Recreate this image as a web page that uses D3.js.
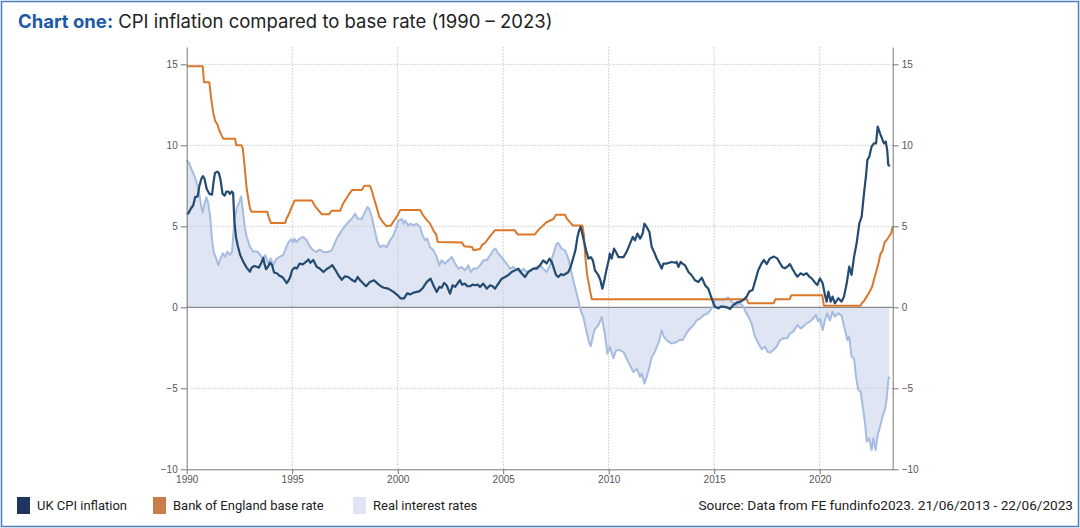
<!DOCTYPE html>
<html><head><meta charset="utf-8">
<script src="https://cdn.jsdelivr.net/npm/d3@7"></script>
<style>
html,body{margin:0;padding:0;background:#fff;}
svg{display:block;}
</style></head>
<body>
<script>
// ---------- DATA ----------
const yTicks = [-10, -5, 0, 5, 10, 15];
const xTicks = [1990, 1995, 2000, 2005, 2010, 2015, 2020];
const seriesNames = ["UK CPI inflation", "Bank of England base rate", "Real interest rates"];

// UK CPI inflation [year, %]
const cpi = [
[1990.00,5.75],[1990.08,5.8],[1990.2,6.1],[1990.31,6.3],[1990.4,6.8],[1990.52,6.85],[1990.6,7.5],[1990.7,7.95],[1990.77,8.1],[1990.84,7.95],[1990.95,7.3],
[1991.08,7.0],[1991.2,6.95],[1991.28,7.8],[1991.34,8.3],[1991.45,8.37],[1991.52,8.3],[1991.6,7.9],[1991.7,7.0],[1991.8,6.9],[1991.88,7.14],[1991.97,7.15],
[1992.05,7.0],[1992.14,7.15],[1992.2,7.05],[1992.26,5.3],[1992.34,4.3],[1992.42,3.8],[1992.53,3.25],[1992.65,2.9],[1992.75,2.65],[1992.84,2.45],
[1993.0,2.2],[1993.08,2.45],[1993.2,2.55],[1993.32,2.5],[1993.42,2.45],[1993.52,2.7],[1993.63,3.05],[1993.7,2.6],[1993.76,2.35],[1993.87,2.55],[1993.95,2.75],
[1994.05,2.6],[1994.14,2.15],[1994.27,2.1],[1994.4,1.95],[1994.55,1.85],[1994.66,1.65],[1994.74,1.5],[1994.8,1.6],[1994.9,1.85],
[1995.0,2.3],[1995.12,2.45],[1995.22,2.4],[1995.35,2.7],[1995.5,2.65],[1995.65,2.8],[1995.77,2.95],[1995.86,2.75],
[1996.0,2.92],[1996.16,2.5],[1996.3,2.4],[1996.48,2.18],[1996.62,2.35],[1996.8,2.5],[1996.9,2.6],
[1997.05,2.3],[1997.19,1.98],[1997.35,1.7],[1997.5,1.91],[1997.66,1.87],[1997.82,1.7],[1997.98,1.58],
[1998.1,1.87],[1998.22,1.67],[1998.38,1.46],[1998.5,1.3],[1998.68,1.56],[1998.88,1.67],
[1999.05,1.46],[1999.2,1.3],[1999.35,1.21],[1999.55,1.15],[1999.8,0.95],
[2000.0,0.74],[2000.14,0.55],[2000.3,0.55],[2000.45,0.86],[2000.6,0.8],[2000.74,0.9],[2000.9,0.95],
[2001.05,1.0],[2001.2,1.21],[2001.37,1.56],[2001.56,1.77],[2001.69,1.36],[2001.85,0.95],[2001.97,1.26],
[2002.08,1.21],[2002.2,1.5],[2002.32,1.36],[2002.48,0.84],[2002.6,1.36],[2002.72,1.26],[2002.85,1.5],[2002.95,1.67],
[2003.05,1.4],[2003.19,1.46],[2003.3,1.3],[2003.43,1.3],[2003.55,1.4],[2003.66,1.36],[2003.8,1.4],[2003.9,1.26],
[2004.06,1.46],[2004.22,1.15],[2004.38,1.36],[2004.5,1.3],[2004.61,1.15],[2004.77,1.46],[2004.93,1.77],
[2005.09,1.87],[2005.25,2.0],[2005.4,2.18],[2005.56,2.28],[2005.72,2.39],[2005.88,2.08],
[2006.03,1.87],[2006.19,2.18],[2006.43,2.39],[2006.6,2.39],[2006.75,2.6],[2006.9,2.9],
[2007.06,2.7],[2007.19,3.0],[2007.3,2.8],[2007.38,2.49],[2007.5,2.0],[2007.61,1.87],[2007.75,2.05],[2007.85,1.98],
[2008.0,2.1],[2008.09,2.18],[2008.2,2.5],[2008.33,3.1],[2008.42,3.5],[2008.52,4.34],[2008.6,4.75],[2008.67,4.96],[2008.74,4.6],[2008.8,4.24],[2008.93,3.52],
[2009.04,3.0],[2009.15,3.1],[2009.25,2.9],[2009.35,2.28],[2009.51,1.98],[2009.6,1.7],[2009.7,1.15],[2009.8,1.7],[2009.87,2.18],
[2010.0,2.9],[2010.05,3.31],[2010.14,3.0],[2010.25,3.62],[2010.35,3.4],[2010.46,3.1],[2010.6,3.1],[2010.7,3.1],[2010.85,3.42],
[2011.01,3.93],[2011.14,4.34],[2011.25,4.14],[2011.36,4.55],[2011.49,4.24],[2011.61,4.55],[2011.69,5.16],[2011.8,4.96],[2011.93,4.65],
[2012.04,3.72],[2012.15,3.42],[2012.28,3.0],[2012.4,2.7],[2012.51,2.39],[2012.59,2.7],[2012.75,2.7],[2012.99,2.8],
[2013.15,2.75],[2013.22,2.8],[2013.3,2.49],[2013.41,2.8],[2013.5,2.7],[2013.62,2.59],[2013.78,2.18],[2013.93,1.98],
[2014.09,1.67],[2014.25,1.56],[2014.41,1.83],[2014.57,1.36],[2014.72,1.15],[2014.85,0.66],[2014.95,0.3],
[2015.04,0.04],[2015.2,-0.06],[2015.32,0.05],[2015.43,0.04],[2015.59,0.0],[2015.75,-0.1],[2015.91,0.14],
[2016.06,0.29],[2016.22,0.35],[2016.38,0.45],[2016.54,0.66],[2016.66,0.97],[2016.82,1.07],[2016.98,1.79],
[2017.09,2.3],[2017.25,2.72],[2017.36,2.92],[2017.49,2.67],[2017.64,3.02],[2017.83,3.13],[2017.99,3.02],
[2018.12,2.72],[2018.24,2.47],[2018.35,2.41],[2018.47,2.51],[2018.59,2.67],[2018.72,2.35],[2018.83,2.1],[2018.94,1.89],
[2019.1,2.1],[2019.22,2.0],[2019.38,2.1],[2019.51,1.89],[2019.62,1.79],[2019.78,1.52],[2019.89,1.38],
[2020.01,1.79],[2020.14,1.48],[2020.25,0.76],[2020.33,0.35],[2020.41,0.97],[2020.52,0.35],[2020.61,0.66],[2020.72,0.25],[2020.88,0.56],
[2021.04,0.35],[2021.15,0.66],[2021.28,1.48],[2021.4,2.51],[2021.51,2.0],[2021.63,3.13],[2021.75,3.95],[2021.88,5.19],[2021.99,5.6],
[2022.1,7.04],[2022.19,8.07],[2022.26,9.09],[2022.35,9.3],[2022.46,9.92],[2022.57,10.12],[2022.67,10.12],[2022.75,11.15],[2022.86,10.74],[2022.98,10.33],
[2023.05,10.12],[2023.13,10.23],[2023.2,9.71],[2023.25,8.79],[2023.33,8.72]
];

// Bank of England base rate [year, %]
const baseRate = [
[1990.00,14.875],[1990.76,14.875],[1990.82,13.9],[1991.07,13.9],[1991.18,12.7],[1991.26,12.0],[1991.35,11.5],[1991.45,11.3],[1991.55,10.9],[1991.66,10.6],[1991.74,10.4],
[1992.29,10.4],[1992.35,10.0],[1992.6,10.0],[1992.66,9.8],[1992.76,8.5],[1992.84,7.35],[1992.92,6.7],[1993.0,6.1],[1993.08,5.9],[1993.82,5.9],[1993.9,5.5],[1994.0,5.2],
[1994.66,5.2],[1994.74,5.5],[1994.84,5.75],[1994.95,6.1],[1995.05,6.4],[1995.12,6.6],[1995.93,6.6],[1996.08,6.25],[1996.24,6.0],[1996.4,5.75],[1996.75,5.75],[1996.87,5.96],
[1997.27,5.96],[1997.42,6.42],[1997.58,6.75],[1997.7,7.0],[1997.84,7.24],[1998.3,7.24],[1998.42,7.5],[1998.68,7.5],[1998.77,7.22],[1998.88,6.7],[1999.0,6.2],[1999.12,5.6],
[1999.3,5.25],[1999.48,5.0],[1999.68,5.05],[1999.8,5.3],[1999.95,5.58],[2000.12,6.0],[2001.06,6.0],[2001.2,5.7],[2001.37,5.4],[2001.52,5.2],[2001.69,4.75],[2001.82,4.5],[2001.9,4.03],
[2003.05,4.0],[2003.15,3.77],[2003.52,3.72],[2003.6,3.52],[2003.9,3.6],[2004.0,3.85],[2004.12,3.95],[2004.3,4.25],[2004.45,4.5],[2004.6,4.75],
[2005.55,4.75],[2005.68,4.5],[2006.5,4.5],[2006.65,4.75],[2006.85,5.0],[2007.05,5.25],[2007.38,5.45],[2007.5,5.72],[2007.93,5.72],[2008.02,5.47],[2008.15,5.27],[2008.3,5.05],
[2008.75,5.05],[2008.82,4.5],[2008.9,3.0],[2008.98,2.0],[2009.05,1.5],[2009.12,1.0],[2009.2,0.5],[2016.55,0.5],[2016.62,0.25],[2017.82,0.25],[2017.9,0.5],
[2018.58,0.5],[2018.66,0.75],[2020.12,0.75],[2020.2,0.1],[2021.93,0.1],[2022.0,0.25],[2022.1,0.4],[2022.2,0.6],[2022.32,0.85],[2022.42,1.1],[2022.48,1.25],
[2022.58,1.75],[2022.7,2.3],[2022.8,2.8],[2022.88,3.3],[2022.98,3.5],[2023.07,4.0],[2023.2,4.2],[2023.3,4.4],[2023.4,4.6],[2023.46,5.0]
];

// Real interest rates [year, %]
const realRate = [
[1990.0,9.09],[1990.1,8.95],[1990.24,8.48],[1990.35,8.17],[1990.47,7.7],[1990.55,7.35],[1990.63,6.73],[1990.71,6.1],[1990.76,5.85],[1990.83,6.3],[1990.93,6.8],
[1991.02,6.42],[1991.12,5.5],[1991.2,4.2],[1991.28,3.4],[1991.4,3.0],[1991.5,2.61],[1991.6,3.0],[1991.71,3.33],[1991.82,3.13],[1991.93,3.44],
[1992.05,3.23],[1992.15,3.44],[1992.2,4.3],[1992.26,5.3],[1992.37,6.11],[1992.5,6.52],[1992.58,6.85],[1992.65,6.11],[1992.76,4.88],[1992.84,4.36],
[1993.0,3.74],[1993.15,3.44],[1993.35,3.44],[1993.48,3.23],[1993.63,3.02],[1993.72,3.23],[1993.87,2.72],[1993.98,3.02],
[1994.1,2.61],[1994.25,2.98],[1994.42,3.13],[1994.58,3.23],[1994.71,3.68],[1994.82,4.01],[1994.95,4.2],
[1995.05,4.03],[1995.1,4.24],[1995.2,4.03],[1995.35,4.24],[1995.53,4.34],[1995.68,4.14],[1995.85,3.72],
[1996.0,3.52],[1996.15,3.42],[1996.3,3.56],[1996.48,3.42],[1996.7,3.42],[1996.87,3.52],
[1997.11,4.24],[1997.35,4.75],[1997.59,5.16],[1997.82,5.47],[1997.98,5.78],[1998.1,5.47],[1998.3,5.47],[1998.45,5.88],[1998.57,6.19],[1998.65,6.09],[1998.77,5.58],[1998.93,4.65],
[1999.04,4.03],[1999.17,3.72],[1999.32,3.83],[1999.48,3.72],[1999.64,4.14],[1999.8,4.44],[1999.92,4.86],
[2000.03,5.37],[2000.11,5.37],[2000.19,5.47],[2000.27,5.16],[2000.35,5.37],[2000.5,5.06],[2000.6,5.16],[2000.75,5.06],[2000.9,5.16],
[2001.06,4.96],[2001.18,4.44],[2001.3,4.14],[2001.4,4.24],[2001.53,3.72],[2001.69,3.52],[2001.85,3.11],[2001.97,2.59],
[2002.08,2.9],[2002.24,2.7],[2002.4,2.9],[2002.56,3.11],[2002.72,2.7],[2002.87,2.39],
[2003.03,2.49],[2003.19,2.28],[2003.35,2.59],[2003.46,2.18],[2003.59,2.39],[2003.74,2.39],[2003.9,2.59],
[2004.06,2.9],[2004.22,2.9],[2004.38,3.21],[2004.53,3.52],[2004.64,3.62],[2004.77,3.31],[2004.93,3.11],
[2005.01,2.94],[2005.17,2.7],[2005.32,2.39],[2005.48,2.49],[2005.64,2.28],[2005.8,2.18],[2005.96,2.39],
[2006.11,2.18],[2006.27,2.28],[2006.43,2.39],[2006.59,2.49],[2006.75,2.59],[2006.9,2.39],
[2007.06,2.18],[2007.22,2.59],[2007.38,3.31],[2007.53,3.93],[2007.61,3.97],[2007.77,3.62],[2007.93,3.52],
[2008.09,3.0],[2008.25,2.08],[2008.4,1.26],[2008.56,0.43],[2008.67,-0.19],[2008.8,-0.6],[2008.92,-1.32],
[2009.08,-2.24],[2009.15,-2.4],[2009.28,-1.63],[2009.35,-1.32],[2009.51,-1.11],[2009.6,-0.8],[2009.67,-0.6],[2009.8,-1.52],[2009.94,-2.86],
[2010.06,-2.45],[2010.22,-3.15],[2010.35,-2.65],[2010.5,-2.63],[2010.7,-2.76],[2010.85,-3.17],
[2011.01,-3.58],[2011.17,-3.99],[2011.33,-3.79],[2011.49,-4.3],[2011.57,-4.09],[2011.69,-4.71],[2011.8,-4.3],[2011.93,-3.68],
[2012.04,-3.07],[2012.15,-2.86],[2012.28,-2.45],[2012.4,-2.04],[2012.51,-1.42],[2012.62,-1.83],[2012.75,-2.04],[2012.99,-2.24],
[2013.22,-2.14],[2013.38,-2.0],[2013.5,-2.04],[2013.67,-1.63],[2013.85,-1.32],
[2014.01,-1.11],[2014.17,-0.8],[2014.33,-0.7],[2014.49,-0.49],[2014.68,-0.39],[2014.8,-0.2],[2014.93,0.04],
[2015.04,0.45],[2015.2,0.49],[2015.43,0.45],[2015.66,0.62],[2015.82,0.35],
[2016.06,0.14],[2016.22,0.29],[2016.38,0.04],[2016.54,-0.41],[2016.66,-0.68],[2016.77,-0.99],[2016.93,-1.81],
[2017.09,-2.22],[2017.25,-2.59],[2017.41,-2.43],[2017.52,-2.74],[2017.64,-2.8],[2017.8,-2.63],[2017.96,-2.43],
[2018.12,-2.02],[2018.28,-1.91],[2018.47,-1.91],[2018.59,-1.6],[2018.75,-1.5],[2018.94,-1.09],
[2019.1,-1.3],[2019.22,-1.19],[2019.38,-0.99],[2019.54,-0.88],[2019.7,-0.68],[2019.82,-0.47],[2019.93,-0.88],
[2020.01,-0.68],[2020.14,-1.4],[2020.25,-0.78],[2020.36,-0.37],[2020.48,-0.82],[2020.61,-0.27],[2020.72,-0.58],[2020.88,-0.37],
[2021.04,-0.53],[2021.2,-1.4],[2021.31,-2.02],[2021.4,-1.81],[2021.51,-3.05],[2021.63,-3.15],[2021.72,-4.28],[2021.83,-5.1],[2021.94,-5.21],
[2022.04,-6.13],[2022.15,-7.16],[2022.23,-8.29],[2022.35,-8.09],[2022.46,-8.81],[2022.54,-8.09],[2022.65,-8.81],[2022.75,-7.88],[2022.86,-7.37],[2022.98,-6.75],
[2023.09,-6.34],[2023.17,-5.72],[2023.25,-4.49],[2023.3,-4.28]
];

// ---------- LAYOUT ----------
const W = 1080, H = 528;
const svg = d3.select("body").append("svg").attr("width", W).attr("height", H);

const colors = {cpi:"#234a70", base:"#d9772b", realLine:"#a6bce0", realFill:"#dfe5f2"};

// frame
svg.append("rect").attr("x",1.5).attr("y",1.5).attr("width",W-3).attr("height",H-3)
  .attr("fill","#fff").attr("stroke","#4a7cc0").attr("stroke-width",1.5);

// title
const title = svg.append("text").attr("x",18).attr("y",28)
  .attr("font-family","Inter, 'Open Sans', sans-serif").attr("font-size",18.5);
title.append("tspan").attr("font-weight",700).attr("fill","#1d5aa6").text("Chart one:");
title.append("tspan").attr("fill","#222").text(" CPI inflation compared to base rate (1990 \u2013 2023)");

const x = d3.scaleLinear().domain([1990, 2023.46]).range([186.7, 892.7]);
const y = d3.scaleLinear().domain([-10, 16.07]).range([469.3, 47]);

const g = svg.append("g");

// real rate area
const area = d3.area().x(d=>x(d[0])).y0(y(0)).y1(d=>y(d[1]));
g.append("path").datum(realRate).attr("d",area).attr("fill",colors.realFill);

// gridlines
g.append("g").selectAll("line").data(yTicks.filter(v=>v!==0 && v!==-10)).join("line")
  .attr("x1",x.range()[0]).attr("x2",x.range()[1]).attr("y1",d=>y(d)).attr("y2",d=>y(d))
  .attr("stroke","#c8c8c8").attr("stroke-width",1).attr("stroke-dasharray","1.5,1.5");
g.append("g").selectAll("line").data(xTicks.filter(v=>v!==1990)).join("line")
  .attr("x1",d=>x(d)).attr("x2",d=>x(d)).attr("y1",y.range()[1]).attr("y2",y.range()[0])
  .attr("stroke","#c8c8c8").attr("stroke-width",1).attr("stroke-dasharray","1.5,1.5");

// zero line
g.append("line").attr("x1",x.range()[0]).attr("x2",x.range()[1]).attr("y1",y(0)).attr("y2",y(0))
  .attr("stroke","#8a8a8a").attr("stroke-width",1.2);

// lines
const line = d3.line().x(d=>x(d[0])).y(d=>y(d[1]));
g.append("path").datum(realRate).attr("d",line).attr("fill","none").attr("stroke",colors.realLine).attr("stroke-width",2).attr("stroke-linejoin","round");
g.append("path").datum(baseRate).attr("d",line).attr("fill","none").attr("stroke",colors.base).attr("stroke-width",2).attr("stroke-linejoin","round");
g.append("path").datum(cpi).attr("d",line).attr("fill","none").attr("stroke",colors.cpi).attr("stroke-width",2.2).attr("stroke-linejoin","round");

// axes
const axisFont = "'Liberation Sans', Arial, sans-serif";
const minorY = d3.range(-10, 16, 1);
const minorX = d3.range(1990, 2024, 1);
function styleAxis(sel){
  sel.select(".domain").attr("stroke","#777");
  sel.selectAll(".tick line").attr("stroke","#777");
  sel.selectAll(".tick text").attr("fill","#555").attr("font-family",axisFont).attr("font-size",10);
}
// left
const yl = svg.append("g").attr("transform",`translate(${x.range()[0]},0)`);
yl.call(d3.axisLeft(y).tickValues(minorY).tickSize(3).tickFormat("")).call(styleAxis);
yl.call(d3.axisLeft(y).tickValues(yTicks).tickSize(6).tickSizeOuter(0).tickFormat(d3.format("d"))).call(styleAxis);
// right
const yr = svg.append("g").attr("transform",`translate(${x.range()[1]},0)`);
yr.call(d3.axisRight(y).tickValues(minorY).tickSize(3).tickFormat("")).call(styleAxis);
yr.call(d3.axisRight(y).tickValues(yTicks).tickSize(6).tickSizeOuter(0).tickFormat(d3.format("d"))).call(styleAxis);
// bottom
const xb = svg.append("g").attr("transform",`translate(0,${y(-10)})`);
xb.call(d3.axisBottom(x).tickValues(minorX).tickSize(3).tickFormat("")).call(styleAxis);
xb.call(d3.axisBottom(x).tickValues(xTicks).tickSize(5).tickSizeOuter(0).tickFormat(d3.format("d"))).call(styleAxis);
xb.selectAll(".tick text").attr("dy","0.6em");

// legend
const legend = [
  {label:seriesNames[0], color:"#1e3560", sx:17, tx:37},
  {label:seriesNames[1], color:"#c97e4a", sx:153, tx:173},
  {label:seriesNames[2], color:"#dfe5f2", sx:353, tx:373}
];
const lg = svg.append("g");
lg.selectAll("rect").data(legend).join("rect")
  .attr("x",d=>d.sx).attr("y",497).attr("width",13).attr("height",17).attr("fill",d=>d.color);
lg.selectAll("text").data(legend).join("text")
  .attr("x",d=>d.tx).attr("y",510).attr("font-family","Roboto, sans-serif").attr("font-size",13)
  .attr("fill","#222").text(d=>d.label);
svg.append("text").attr("x",1073).attr("y",510).attr("text-anchor","end")
  .attr("font-family","Roboto, sans-serif").attr("font-size",13.6).attr("fill","#222")
  .text("Source: Data from FE fundinfo2023. 21/06/2013 - 22/06/2023");
</script>
</body></html>
